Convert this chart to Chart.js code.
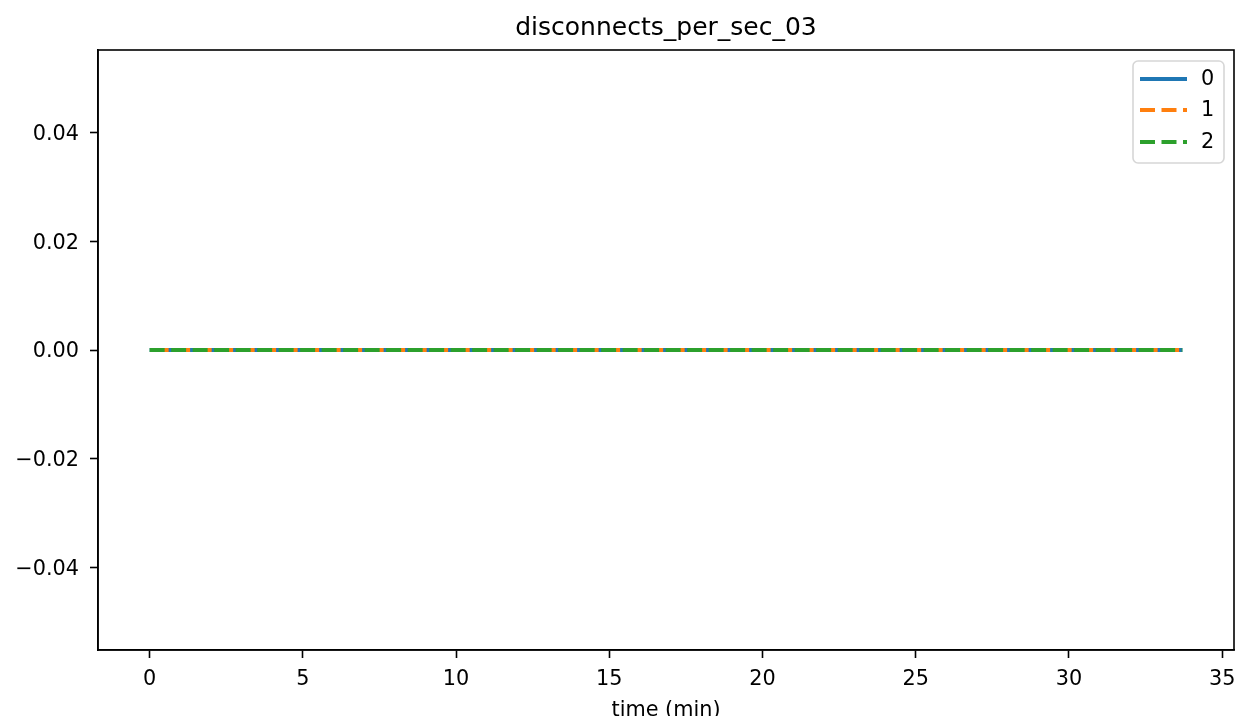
<!DOCTYPE html>
<html>
<head>
<meta charset="utf-8">
<title>disconnects_per_sec_03</title>
<script src="https://cdn.jsdelivr.net/npm/chart.js@4/dist/chart.umd.min.js"></script>
<style>
  html, body { margin: 0; padding: 0; background: #fff; }
  #wrap { width: 1243px; height: 716px; }
</style>
</head>
<body>
<div id="wrap"><canvas id="chart" width="1243" height="716"></canvas></div>
<script>
// data: every series sits flat on zero
const chartTitle = 'disconnects_per_sec_03'
const xLabel = 'time (min)'
const seriesNames = ['0', '1', '2']
const times = [0, 1, 2, 3, 4, 5, 6, 7, 8, 9, 10, 11, 12, 13, 14, 15, 16, 17, 18, 19, 20,
               21, 22, 23, 24, 25, 26, 27, 28, 29, 30, 31, 32, 33, 33.7]
const series0 = [0, 0, 0, 0, 0, 0, 0, 0, 0, 0, 0, 0, 0, 0, 0, 0, 0, 0, 0, 0, 0,
                 0, 0, 0, 0, 0, 0, 0, 0, 0, 0, 0, 0, 0, 0]
const series1 = [0, 0, 0, 0, 0, 0, 0, 0, 0, 0, 0, 0, 0, 0, 0, 0, 0, 0, 0, 0, 0,
                 0, 0, 0, 0, 0, 0, 0, 0, 0, 0, 0, 0, 0, 0]
const series2 = [0, 0, 0, 0, 0, 0, 0, 0, 0, 0, 0, 0, 0, 0, 0, 0, 0, 0, 0, 0, 0,
                 0, 0, 0, 0, 0, 0, 0, 0, 0, 0, 0, 0, 0, 0]
const xTicks = [0, 5, 10, 15, 20, 25, 30, 35]
const yTicks = [-0.04, -0.02, 0.00, 0.02, 0.04]

const FONT = 'DejaVu Sans'
const colors = ['#1f77b4', '#ff7f0e', '#2ca02c']
const dashes = [[], [15, 6.5], [15, 6.5]]
const dashOffsets = [0, -4, 0]

function toPoints(values){
    return values.map(function(v, i){ return {x: times[i], y: v} })
}

function fmtY(v){
    if (Math.abs(v) < 1e-12) return '0.00'
    return v.toFixed(2).replace('-', '\u2212')
}

// matplotlib-like frame, title, x label and legend
const decorPlugin = {
    id: 'decor',
    afterDraw: function(chart){
        const ctx = chart.ctx
        const a = chart.chartArea
        ctx.save()
        ctx.strokeStyle = '#000'
        ctx.lineWidth = 1.6
        ctx.strokeRect(a.left, a.top, a.right - a.left, a.bottom - a.top)

        ctx.fillStyle = '#000'
        ctx.textAlign = 'center'
        ctx.textBaseline = 'alphabetic'
        ctx.font = '25px "' + FONT + '"'
        ctx.fillText(chartTitle, (a.left + a.right) / 2, 35)
        ctx.font = '20.8px "' + FONT + '"'
        ctx.fillText(xLabel, (a.left + a.right) / 2, 716)

        // legend box
        const bx = 1133, by = 61, bw = 91, bh = 102, r = 5
        ctx.beginPath()
        ctx.moveTo(bx + r, by)
        ctx.arcTo(bx + bw, by, bx + bw, by + bh, r)
        ctx.arcTo(bx + bw, by + bh, bx, by + bh, r)
        ctx.arcTo(bx, by + bh, bx, by, r)
        ctx.arcTo(bx, by, bx + bw, by, r)
        ctx.closePath()
        ctx.fillStyle = 'rgba(255,255,255,0.8)'
        ctx.fill()
        ctx.strokeStyle = 'rgba(204,204,204,0.8)'
        ctx.lineWidth = 1.6
        ctx.stroke()

        const rows = [79, 110, 142]
        chart.data.datasets.forEach(function(ds, i){
            ctx.beginPath()
            ctx.setLineDash(ds.borderDash || [])
            ctx.lineDashOffset = 0
            ctx.strokeStyle = ds.borderColor
            ctx.lineWidth = ds.borderWidth
            ctx.moveTo(1140, rows[i])
            ctx.lineTo(1187, rows[i])
            ctx.stroke()
            ctx.setLineDash([])
            ctx.fillStyle = '#000'
            ctx.textAlign = 'left'
            ctx.textBaseline = 'middle'
            ctx.font = '20.8px "' + FONT + '"'
            ctx.fillText(ds.label, 1201, rows[i] + 1)
        })
        ctx.restore()
    }
}

const ctx = document.getElementById('chart').getContext('2d')
const chart = new Chart(ctx, {
    type: 'line',
    data: {
        datasets: [series0, series1, series2].map(function(vals, i){
            return {
                label: seriesNames[i],
                data: toPoints(vals),
                borderColor: colors[i],
                backgroundColor: colors[i],
                borderWidth: 4,
                borderDash: dashes[i],
                borderDashOffset: dashOffsets[i],
                order: 3 - i,   // later series on top, like matplotlib
                pointRadius: 0,
                tension: 0,
                fill: false
            }
        })
    },
    options: {
        responsive: false,
        animation: false,
        events: [],
        layout: { padding: { top: 50, right: 9, left: 0, bottom: 0 } },
        plugins: {
            legend: { display: false },
            title: { display: false },
            tooltip: { enabled: false }
        },
        scales: {
            x: {
                type: 'linear',
                min: -1.685,
                max: 35.385,
                afterFit: function(scale){
                    scale.height = 66
                    scale.paddingLeft = 0
                    scale.paddingRight = 0
                },
                afterBuildTicks: function(scale){
                    scale.ticks = xTicks.map(function(v){ return {value: v} })
                },
                grid: {
                    drawOnChartArea: false,
                    drawTicks: true,
                    tickLength: 8,
                    tickWidth: 1.6,
                    tickColor: '#000'
                },
                border: { display: true, color: '#000', width: 1.6 },
                ticks: {
                    color: '#000',
                    padding: 9,
                    maxRotation: 0,
                    autoSkip: false,
                    font: { family: FONT, size: 20.8 },
                    callback: function(v){ return String(v) }
                }
            },
            y: {
                type: 'linear',
                min: -0.0552,
                max: 0.0552,
                afterFit: function(scale){
                    scale.width = 98
                    scale.paddingTop = 0
                    scale.paddingBottom = 0
                },
                afterBuildTicks: function(scale){
                    scale.ticks = yTicks.map(function(v){ return {value: v} })
                },
                grid: {
                    drawOnChartArea: false,
                    drawTicks: true,
                    tickLength: 8,
                    tickWidth: 1.6,
                    tickColor: '#000'
                },
                border: { display: true, color: '#000', width: 1.6 },
                ticks: {
                    color: '#000',
                    padding: 11,
                    labelOffset: 2,
                    autoSkip: false,
                    font: { family: FONT, size: 20.8 },
                    callback: function(v){ return fmtY(v) }
                }
            }
        }
    },
    plugins: [decorPlugin]
})
</script>
</body>
</html>
